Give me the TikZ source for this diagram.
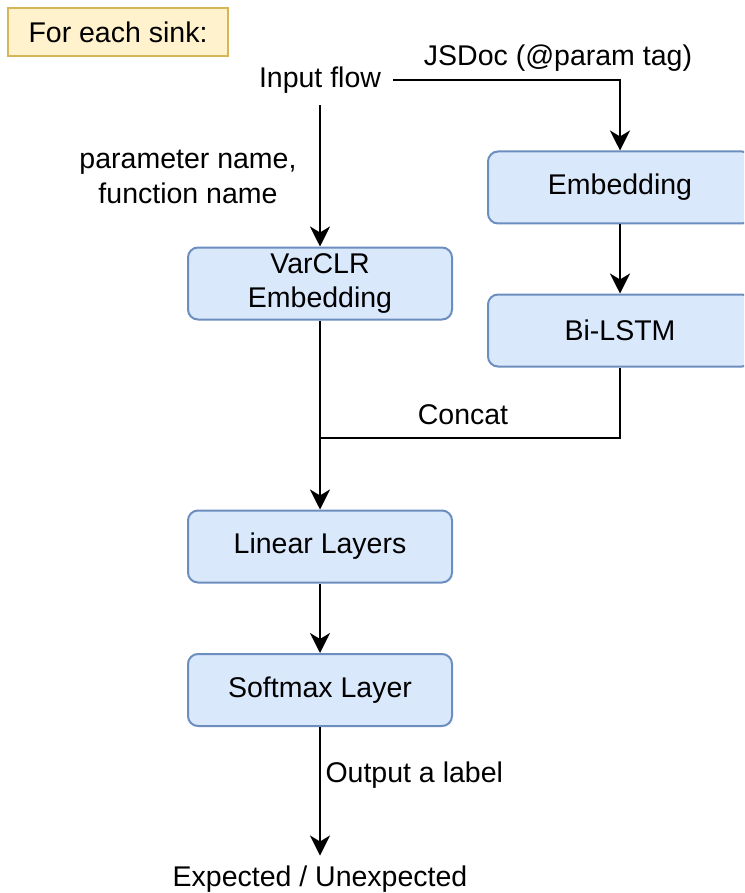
\documentclass[tikz,border=0pt]{standalone}
\usepackage{fontspec}
\setmainfont{Liberation Sans}
\usetikzlibrary{arrows.meta}
\definecolor{boxfill}{HTML}{DAE8FC}
\definecolor{boxline}{HTML}{6C8EBF}
\definecolor{sinkfill}{HTML}{FFF2CC}
\definecolor{sinkline}{HTML}{D6B656}
\begin{document}
\begin{tikzpicture}[x=1pt,y=-1pt,
  every node/.style={font=\fontsize{28.5}{34}\selectfont},
  blk/.style={draw=boxline, fill=boxfill, line width=2pt, rounded corners=10pt,
    minimum width=264pt, minimum height=72pt, align=center, inner sep=0pt},
  arr/.style={-{Stealth[length=20pt,width=20pt,inset=6pt]}, line width=2.5pt},
  wire/.style={line width=2.5pt}]
\clip (0,0) rectangle (744,893);
\node[draw=sinkline, fill=sinkfill, line width=2pt, minimum width=220pt,
  minimum height=48pt, inner sep=0pt] (sink) at (118,32) {For each sink:};
\node[inner xsep=12pt, inner ysep=12pt] (inflow) at (320,80) {Input flow};
\node (jsdoc) at (558,58) {JSDoc (@param tag)};
\node[align=center, font=\fontsize{28.5}{35}\selectfont] (pname) at (188,177) {parameter name,\\function name};
\node[blk] (varclr) at (320,283.5) {VarCLR\\Embedding};
\node[blk] (emb) at (620,187.5) {Embedding};
\node[blk] (bilstm) at (620,330.5) {Bi-LSTM};
\node[blk] (linear) at (320,546.5) {Linear Layers};
\node[blk] (softmax) at (320,690) {Softmax Layer};
\node[inner ysep=10pt] (out) at (320,879) {Expected / Unexpected};
\node[anchor=west] (outlbl) at (322,775) {Output a label};
\node (concat) at (463,415) {Concat};
\coordinate (join) at (320,438);
\draw[arr] (inflow.east) -| (emb.north);
\draw[arr] (inflow.south) -- (varclr.north);
\draw[arr] (emb) -- (bilstm);
\draw[wire] (bilstm.south) |- (join);
\draw[arr] (varclr) -- (linear);
\draw[arr] (linear) -- (softmax);
\draw[arr] (softmax) -- (out);
\end{tikzpicture}
\end{document}
